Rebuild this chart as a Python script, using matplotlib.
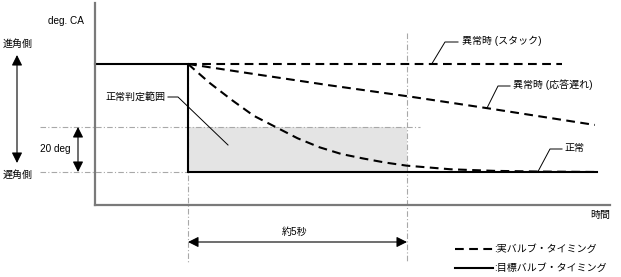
import matplotlib
matplotlib.use("Agg")
import matplotlib.pyplot as plt
from matplotlib.patches import FancyArrowPatch, Rectangle

plt.rcParams['font.family'] = ['Liberation Sans', 'Noto Sans CJK JP', 'DejaVu Sans']

# ---------------- data (time in s, angle in deg CA, 0 = retarded target) ----------------
t_target = [-2.12, 0, 0, 9.34]
deg_target = [48, 48, 0, 0]

t_stack = [0, 8.54]
deg_stack = [48, 48]

t_delay = [0, 1.35, 3.24, 5.07, 6.85, 9.29]
deg_delay = [48, 44, 38.5, 33.5, 28.3, 20.9]

t_normal = [0, 0.5, 1, 1.5, 2, 2.5, 3, 3.5, 4, 4.5, 5, 6, 7, 8, 9.34]
deg_normal = [48, 39.5, 32, 25, 20, 15, 11, 8, 6, 4.2, 2.8, 1.2, 0.5, 0.2, 0]

band_t = [0, 5]        # normal judgement window (about 5 s)
band_deg = [0, 20]     # 20 deg band

label_stack = "異常時 (スタック)"
label_delay = "異常時 (応答遅れ)"
label_normal = "正常"
label_band = "正常判定範囲"
legend_actual = ":実バルブ・タイミング"
legend_target = ":目標バルブ・タイミング"

# ---------------- figure ----------------
W, H = 621, 277
fig = plt.figure(figsize=(W / 100, H / 100), dpi=100)

ax = fig.add_axes([95 / W, (H - 205) / H, (610 - 95) / W, (205 - 3) / H])
ax.set_xlim(-2.123, 9.635)
ax.set_ylim(-14.67, 75.1)
for s in ['top', 'right']:
    ax.spines[s].set_visible(False)
for s in ['left', 'bottom']:
    ax.spines[s].set_color('#7a7a7a')
    ax.spines[s].set_linewidth(1.6)
ax.set_xticks([])
ax.set_yticks([])
ax.patch.set_alpha(0)

ov = fig.add_axes([0, 0, 1, 1])
ov.set_xlim(0, W)
ov.set_ylim(H, 0)
ov.axis('off')
ov.set_zorder(5)

FS = 7.2
dd_col = '#a8a8a8'
dashdot = dict(color=dd_col, lw=0.8, dashes=(5, 2, 1, 2), clip_on=False, zorder=1)

# shaded judgement range
ax.add_patch(Rectangle((band_t[0], band_deg[0]), band_t[1] - band_t[0], band_deg[1] - band_deg[0],
                       facecolor='#e4e4e4', edgecolor='none', zorder=0))

# reference dash-dot lines
ax.plot([-3.38, 5.3], [band_deg[1], band_deg[1]], **dashdot)
ax.plot([-3.38, 0], [band_deg[0], band_deg[0]], **dashdot)
ax.plot([band_t[0], band_t[0]], [48, -40], **dashdot)
ax.plot([band_t[1], band_t[1]], [61.8, -40], **dashdot)

# curves
dash = (4.2, 2.6)
ax.plot(t_stack, deg_stack, color='black', lw=1.5, dashes=dash, clip_on=False, zorder=3)
ax.plot(t_delay, deg_delay, color='black', lw=1.5, dashes=dash, clip_on=False, zorder=3)
ax.plot(t_normal, deg_normal, color='black', lw=1.5, dashes=dash, clip_on=False, zorder=3)
ax.plot(t_target, deg_target, color='black', lw=1.5, solid_joinstyle='miter', clip_on=False, zorder=2)


def arrow(p0, p1, style):
    a = FancyArrowPatch(p0, p1, arrowstyle=style, mutation_scale=9, color='black', lw=0.8,
                        shrinkA=0, shrinkB=0, zorder=4)
    ov.add_patch(a)


both = "<|-|>,head_length=0.7,head_width=0.35"
# advance / retard arrow
arrow((17, 55), (17, 163), both)
# 20 deg arrow
arrow((78, 127), (78, 172), both)
# about 5 s arrow
arrow((188, 242), (407, 242), both)


def leader(pts):
    xs, ys = zip(*pts)
    ov.plot(xs, ys, color='black', lw=0.7, zorder=4)


leader([(432, 63.5), (445, 42), (458, 42)])
leader([(487, 108), (498, 86), (510, 86)])
leader([(538, 171.5), (550, 149), (562, 149)])
leader([(228, 145), (178, 97), (168, 97)])

txt = dict(fontsize=FS, va='center', ha='left', color='black')
ov.text(48, 21, "deg. CA", **txt)
ov.text(3, 44, "進角側", **txt)
ov.text(3, 175, "遅角側", **txt)
ov.text(40, 149, "20 deg", **txt)
ov.text(105, 97, label_band, **txt)
ov.text(462, 41, label_stack, **txt)
ov.text(513, 85, label_delay, **txt)
ov.text(564, 148, label_normal, **txt)
ov.text(610, 215, "時間", fontsize=FS, va='center', ha='right')
ov.text(295, 232, "約5秒", fontsize=FS, va='center', ha='center')

# legend keys
ov.plot([455, 493], [249, 249], color='black', lw=1.5, dashes=dash)
ov.plot([455, 493], [268, 268], color='black', lw=1.5)
ov.text(494, 249, legend_actual, **txt)
ov.text(494, 268, legend_target, **txt)

fig.savefig('out.png', dpi=100)
